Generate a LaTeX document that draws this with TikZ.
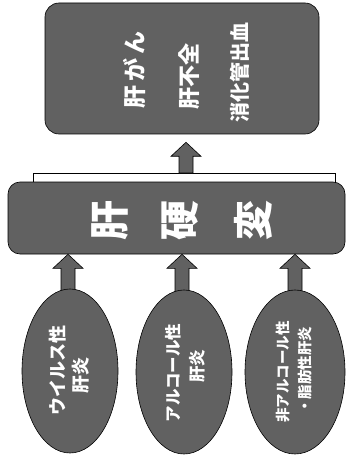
\documentclass[tikz,border=0pt]{standalone}
\usepackage{fontspec}
\newfontfamily\cjk{Noto Sans CJK JP}
\usetikzlibrary{calc,shapes.geometric}
\newcommand\blkarrow[2]{%
  \draw[arrowfill] let \p1=(#1), \p2=(#2) in
    (\x1-7pt,\y1) -- (\x1-7pt,\y2-14pt) -- (\x1-15pt,\y2-14pt) -- (\x1,\y2)
    -- (\x1+15pt,\y2-14pt) -- (\x1+7pt,\y2-14pt) -- (\x1+7pt,\y1) -- cycle;}
\begin{document}
\begin{tikzpicture}[x=1pt,y=-1pt]
\tikzset{
  darkfill/.style={fill=black!62, draw=black, line width=0.6pt},
  arrowfill/.style={fill=black!62, draw=black, line width=0.6pt},
  wtxt/.style={text=white, font=\cjk\bfseries, inner sep=0pt, rotate=90},
  oval/.style={darkfill, ellipse, minimum width=96pt, minimum height=164pt, inner sep=0pt},
}
\useasboundingbox (0,0) rectangle (347,457);
% boxes
\node[darkfill, rounded corners=14pt, minimum width=274pt, minimum height=131pt, inner sep=0pt] (top) at (182,68.5) {};
\node[darkfill, rounded corners=12pt, minimum width=337pt, minimum height=72pt, inner sep=0pt] (mid) at (176.5,218) {};
% arrows from ovals (drawn first, ovals cover their tails)
\coordinate (c1) at (68,300);
\coordinate (c2) at (182,300);
\coordinate (c3) at (295,300);
\blkarrow{c1}{c1 |- mid.south}
\blkarrow{c2}{c2 |- mid.south}
\blkarrow{c3}{c3 |- mid.south}
% ovals
\node[oval] (e1) at (70,371) {};
\node[oval] (e2) at (184,372) {};
\node[oval, minimum width=100pt] (e3) at (295,372) {};
% bracket and top arrow
\coordinate (bl) at (33,173);
\coordinate (br) at (335,173);
\coordinate (bm) at (186,173);
\draw[line width=0.8pt] (bl |- mid.north) -- (bl) -- (br) -- (br |- mid.north);
\coordinate (tip) at ($(top.south)+(4,8)$);
\blkarrow{bm}{tip}
% top texts
\node[wtxt, font=\cjk\bfseries\fontsize{23}{23}\selectfont] (t1) at (135,70) {肝\,が\,ん};
\node[wtxt, font=\cjk\bfseries\fontsize{22}{22}\selectfont] (t2) at (189,77) {肝不全};
\node[wtxt, font=\cjk\bfseries\fontsize{20}{20}\selectfont] (t3) at (240,73) {消化管出血};
% middle texts
\node[wtxt, font=\cjk\bfseries\fontsize{40}{40}\selectfont] (m1) at (110,220) {肝};
\node[wtxt, font=\cjk\bfseries\fontsize{40}{40}\selectfont] (m2) at (180,220) {硬};
\node[wtxt, font=\cjk\bfseries\fontsize{40}{40}\selectfont] (m3) at (253,220) {変};
% oval texts
\node[wtxt, font=\cjk\bfseries\fontsize{18}{18}\selectfont] (a1) at (58,370) {ウイルス性};
\node[wtxt, font=\cjk\bfseries\fontsize{18}{18}\selectfont] (a2) at (81,375) {肝炎};
\node[wtxt, font=\cjk\bfseries\fontsize{16.5}{16.5}\selectfont] (b1) at (173,373) {アルコール性};
\node[wtxt, font=\cjk\bfseries\fontsize{16.5}{16.5}\selectfont] (b2) at (197,366) {肝炎};
\node[wtxt, font=\cjk\bfseries\fontsize{14.5}{14.5}\selectfont] (d1) at (283,372) {非アルコール性};
\node[wtxt, font=\cjk\bfseries\fontsize{14.5}{14.5}\selectfont] (d2) at (305,370) {・脂肪性肝炎};
\end{tikzpicture}
\end{document}
